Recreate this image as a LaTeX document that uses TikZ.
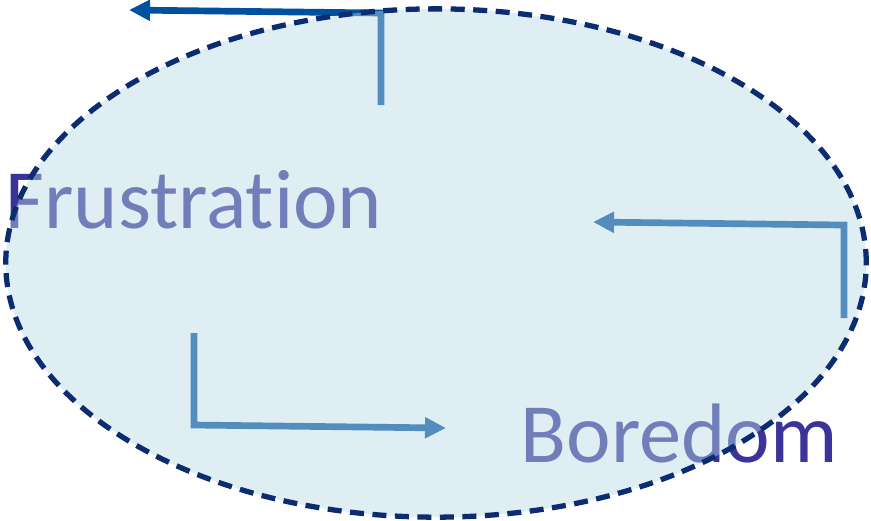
\documentclass[tikz,border=0pt]{standalone}
\usepackage{fontspec}
\setmainfont{Carlito}[Ligatures=NoCommon]
\usetikzlibrary{arrows.meta,shapes.geometric}

\definecolor{navy}{HTML}{0B2C70}
\definecolor{lagoon}{HTML}{B8D9E2}
\definecolor{wordblue}{HTML}{3A349A}
\definecolor{loopblue}{HTML}{0050A0}

\begin{document}
\begin{tikzpicture}[x=0.01cm,y=-0.01cm,
  word/.style={anchor=base west,text=wordblue,inner sep=0pt,font=\fontsize{24}{28}\selectfont},
  loop/.style={draw=loopblue,line width=1.9pt,-{Triangle[length=2.1mm,width=2mm]}}]
\useasboundingbox (0,0) rectangle (871,520);

% the two states
\node[word] (frus) at (5,228) {Frustration};
\node[word] (bore) at (520,462) {Boredom};

% the three elbow arrows
\coordinate (a0) at (381,105);
\coordinate (a1) at (381,13);
\coordinate (a2) at (129,10);
\coordinate (b0) at (844,318);
\coordinate (b1) at (844,225);
\coordinate (b2) at (593,222);
\coordinate (c0) at (194,333);
\coordinate (c1) at (194,425);
\coordinate (c2) at (446,428);

\draw[loop] (a0) -- (a1) -- (a2);
\draw[loop] (b0) -- (b1) -- (b2);
\draw[loop] (c0) -- (c1) -- (c2);

% the shaded cycle on top
\node[draw=navy,line width=1.5pt,dash pattern=on 0.14cm off 0.085cm,
  fill=lagoon,fill opacity=0.45,draw opacity=1,ellipse,
  minimum width=8.6cm,minimum height=5.08cm,inner sep=0pt] (cycle) at (436,263) {};
\end{tikzpicture}
\end{document}
